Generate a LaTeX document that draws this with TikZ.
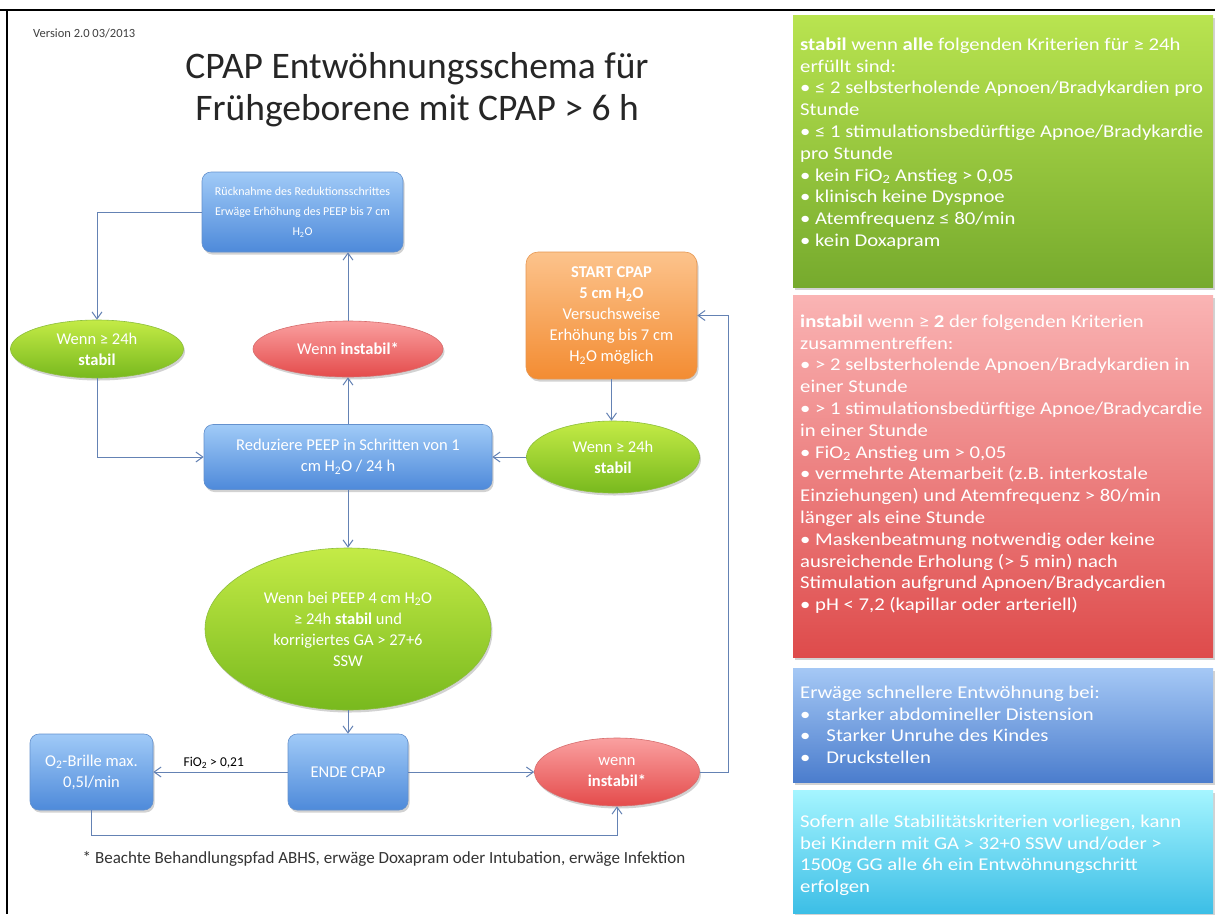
\documentclass[tikz,border=0pt]{standalone}
\usepackage{fontspec}
\setmainfont{Carlito}
\newfontfamily\widefont{Carlito}[FakeStretch=1.15]
\usetikzlibrary{shapes.geometric,arrows.meta,shadows}
\definecolor{blueT}{RGB}{160,202,247}
\definecolor{blueB}{RGB}{78,138,218}
\definecolor{blueD}{RGB}{100,145,205}
\definecolor{grT}{RGB}{196,235,70}
\definecolor{grB}{RGB}{120,185,30}
\definecolor{grD}{RGB}{140,190,60}
\definecolor{rdT}{RGB}{250,160,160}
\definecolor{rdB}{RGB}{228,75,75}
\definecolor{rdD}{RGB}{215,110,110}
\definecolor{orT}{RGB}{252,195,140}
\definecolor{orB}{RGB}{243,140,50}
\definecolor{orD}{RGB}{230,150,80}
\definecolor{pgT}{RGB}{185,228,80}
\definecolor{pgB}{RGB}{118,170,45}
\definecolor{prT}{RGB}{250,180,180}
\definecolor{prB}{RGB}{222,75,75}
\definecolor{pbT}{RGB}{165,200,245}
\definecolor{pbB}{RGB}{75,125,205}
\definecolor{pcT}{RGB}{165,245,255}
\definecolor{pcB}{RGB}{60,190,230}
\definecolor{conncol}{RGB}{100,130,180}
\tikzset{
  shad/.style={drop shadow={opacity=0.35,shadow xshift=1.5pt,shadow yshift=-2.5pt}},
  nodefont/.style={font=\fontsize{16.5}{21}\selectfont},
  bluebox/.style={rectangle,rounded corners=9pt,top color=blueT,bottom color=blueB,draw=blueD,line width=0.6pt,text=white,align=center,inner sep=2pt,shad,nodefont},
  greenell/.style={ellipse,top color=grT,bottom color=grB,draw=grD,line width=0.6pt,text=white,align=center,inner sep=0pt,shad,nodefont},
  redell/.style={ellipse,top color=rdT,bottom color=rdB,draw=rdD,line width=0.6pt,text=white,align=center,inner sep=0pt,shad,nodefont},
  orbox/.style={rectangle,rounded corners=12pt,top color=orT,bottom color=orB,draw=orD,line width=0.6pt,text=white,align=center,inner sep=2pt,shad,nodefont},
  panel/.style={rectangle,anchor=north west,inner sep=0pt,shad},
  paneltext/.style={anchor=north west,inner sep=0pt,text=white,align=left,font=\widefont\fontsize{18}{21.8}\selectfont},
  conn/.style={draw=conncol,line width=1pt,-{Straight Barb[length=7pt,width=10pt,line width=1pt]}},
}
\begin{document}
\begin{tikzpicture}[x=1pt,y=-1pt]
\useasboundingbox (0,0) rectangle (1215,914);
\fill[white] (0,0) rectangle (1215,914);
% frame
\draw[line width=2pt] (0,10) -- (1215,10);
\draw[line width=2pt] (7,10) -- (7,914);

\node[anchor=west,inner sep=0pt,font=\fontsize{12.5}{14}\selectfont,text=black!75] (ver) at (33,33) {Version 2.0 03/2013};
\node[align=center,inner sep=0pt,font=\fontsize{37.5}{42}\selectfont,text=black!85] (title) at (417,90) {CPAP Entwöhnungsschema für\\Frühgeborene mit CPAP > 6 h};

% flow nodes
\node[bluebox,minimum width=201pt,minimum height=80pt,font=\fontsize{12}{20}\selectfont] (ruck) at (302.5,212) {Rücknahme des Reduktionsschrittes\\Erwäge Erhöhung des PEEP bis 7 cm\\H\textsubscript{2}O};
\node[greenell,minimum width=173pt,minimum height=58pt] (gl) at (97,349) {Wenn ≥ 24h\\\textbf{stabil}};
\node[redell,minimum width=190pt,minimum height=56pt] (ri) at (348,349) {Wenn \textbf{instabil*}};
\node[orbox,minimum width=171pt,minimum height=127pt] (start) at (611.5,315.5) {\textbf{START CPAP}\\\textbf{5 cm H\textsubscript{2}O}\\Versuchsweise\\Erhöhung bis 7 cm\\H\textsubscript{2}O möglich};
\node[bluebox,minimum width=288pt,minimum height=65pt] (reduz) at (348,457) {Reduziere PEEP in Schritten von 1\\cm H\textsubscript{2}O / 24 h};
\node[greenell,minimum width=173pt,minimum height=72pt] (gr) at (613,457) {Wenn ≥ 24h\\\textbf{stabil}};
\node[greenell,minimum width=286pt,minimum height=162pt] (bg) at (348,629) {Wenn bei PEEP 4 cm H\textsubscript{2}O\\≥ 24h \textbf{stabil} und\\korrigiertes GA > 27+6\\SSW};
\node[bluebox,minimum width=120pt,minimum height=76pt] (ende) at (348,772) {ENDE CPAP};
\node[bluebox,minimum width=123pt,minimum height=76pt] (o2) at (91.5,772) {O\textsubscript{2}-Brille max.\\0,5l/min};
\node[redell,minimum width=165pt,minimum height=68pt] (rb) at (617,772) {wenn\\\textbf{instabil*}};

\coordinate (lowy) at (0,835);
\coordinate (rightx) at (728,0);

% connectors
\draw[conn] (ruck.west) -| (gl.north);
\draw[conn] (gl.south) |- (reduz.west);
\draw[conn] (reduz.north) -- (ri.south);
\draw[conn] (ri.north) -- (ruck.south -| ri.north);
\draw[conn] (start.south) -- (start.south |- gr.north);
\draw[conn] (gr.west) -- (reduz.east);
\draw[conn] (reduz.south) -- (bg.north);
\draw[conn] (bg.south) -- (ende.north);
\draw[conn] (ende.west) -- node[above,pos=0.55,inner sep=3pt,font=\fontsize{13.5}{15}\selectfont,text=black] (fio) {FiO\textsubscript{2} > 0,21} (o2.east);
\draw[conn] (ende.east) -- (rb.west);
\draw[conn] (o2.south) -- (o2.south |- lowy) -| (rb.south);
\draw[conn] (rb.east) -- (rb.east -| rightx) |- (start.east);

\node[font=\fontsize{17}{19}\selectfont,text=black!80,inner sep=0pt] (foot) at (384,859) {* Beachte Behandlungspfad ABHS, erwäge Doxapram oder Intubation, erwäge Infektion};

% right panels
\node[panel,top color=pgT,bottom color=pgB,minimum width=420pt,minimum height=272pt] (pg) at (793,15) {};
\node[paneltext] (pgt) at (800,37.5) {\textbf{stabil} wenn \textbf{alle} folgenden Kriterien für  ≥ 24h\\erfüllt sind:\\• ≤ 2 selbsterholende Apnoen/Bradykardien pro\\Stunde\\• ≤ 1 stimulationsbedürftige Apnoe/Bradykardie\\pro Stunde\\• kein FiO\textsubscript{2}  Anstieg > 0,05\\• klinisch keine Dyspnoe\\• Atemfrequenz ≤ 80/min\\• kein Doxapram};

\node[panel,top color=prT,bottom color=prB,minimum width=420pt,minimum height=362pt] (pr) at (793,295) {};
\node[paneltext] (prt) at (800,314.5) {\textbf{instabil} wenn ≥ \textbf{2} der folgenden Kriterien\\zusammentreffen:\\• > 2 selbsterholende Apnoen/Bradykardien in\\einer Stunde\\• > 1 stimulationsbedürftige Apnoe/Bradycardie\\in einer Stunde\\• FiO\textsubscript{2} Anstieg um > 0,05\\• vermehrte Atemarbeit (z.B. interkostale\\Einziehungen) und Atemfrequenz > 80/min\\länger als eine Stunde\\• Maskenbeatmung notwendig oder keine\\ausreichende Erholung (> 5 min) nach\\Stimulation aufgrund Apnoen/Bradycardien\\• pH < 7,2 (kapillar oder arteriell)};

\node[panel,top color=pbT,bottom color=pbB,minimum width=420pt,minimum height=114pt] (pb) at (793,668) {};
\node[paneltext] (pbt) at (800,685.5) {Erwäge schnellere Entwöhnung bei:\\•\hspace{16pt}starker abdomineller Distension\\•\hspace{16pt}Starker Unruhe des Kindes\\•\hspace{16pt}Druckstellen};

\node[panel,top color=pcT,bottom color=pcB,minimum width=420pt,minimum height=123pt] (pc) at (793,790) {};
\node[paneltext] (pct) at (800,814.5) {Sofern alle Stabilitätskriterien vorliegen, kann\\bei Kindern mit GA > 32+0 SSW und/oder >\\1500g GG alle 6h ein Entwöhnungschritt\\erfolgen};
\end{tikzpicture}
\end{document}
